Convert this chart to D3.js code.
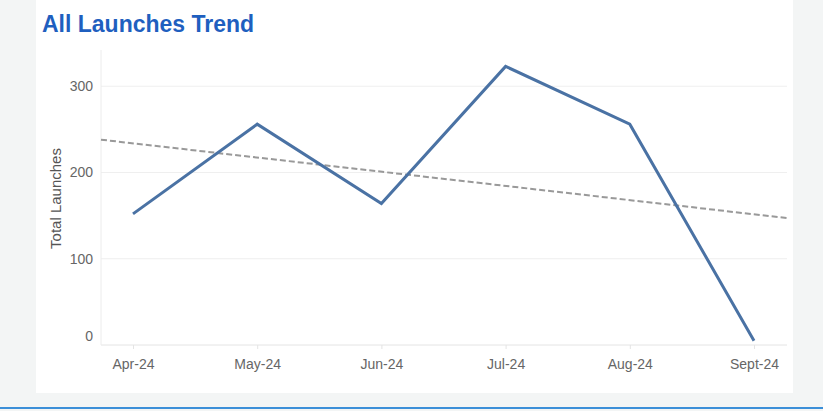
<!DOCTYPE html>
<html>
<head>
<meta charset="utf-8">
<script src="https://cdn.jsdelivr.net/npm/d3@7"></script>
<style>
  body { margin: 0; background: #f3f5f5; }
  svg { display: block; font-family: "Liberation Sans", Arial, sans-serif; }
</style>
</head>
<body>
<svg id="chart" width="823" height="411"></svg>
<script>
// dane
const months = ["Apr-24", "May-24", "Jun-24", "Jul-24", "Aug-24", "Sept-24"];
const launches = [152, 256, 164, 323, 256, 5];
const yTicks = [0, 100, 200, 300];

const svg = d3.select("#chart");

// karta
svg.append("rect").attr("x", 36).attr("y", 0).attr("width", 757).attr("height", 393).attr("fill", "#fff");
svg.append("rect").attr("x", 0).attr("y", 407).attr("width", 823).attr("height", 2).attr("fill", "#3b8fd8");

svg.append("text")
  .attr("x", 42).attr("y", 32)
  .attr("font-size", 23).attr("font-weight", "bold")
  .attr("fill", "#1f5fbf")
  .text("All Launches Trend");

const plotL = 101, plotR = 787, plotT = 50, plotB = 345;

const x = d3.scalePoint().domain(months).range([133, 754]);
const y = d3.scaleLinear().domain([0, 342]).range([plotB, plotT]);

// siatka
svg.append("g").selectAll("line")
  .data(yTicks)
  .enter().append("line")
  .attr("x1", plotL).attr("x2", plotR)
  .attr("y1", d => y(d)).attr("y2", d => y(d))
  .attr("stroke", "#efefef");

svg.append("line").attr("x1", plotL).attr("x2", plotL).attr("y1", plotT).attr("y2", plotB).attr("stroke", "#ececec");

// osie
const yAxis = svg.append("g")
  .attr("transform", `translate(${plotL},0)`)
  .call(d3.axisLeft(y).tickValues(yTicks).tickSize(0).tickPadding(8));
yAxis.select(".domain").remove();
yAxis.selectAll("text").attr("font-size", 14).attr("fill", "#666").attr("font-family", "Liberation Sans, Arial, sans-serif");
// etykieta 0 podniesiona nad dolną krawędź
yAxis.selectAll(".tick").filter(d => d === 0).select("text").attr("y", -9);

const xAxis = svg.append("g")
  .attr("transform", `translate(0,${plotB})`)
  .call(d3.axisBottom(x).tickSize(4).tickPadding(10));
xAxis.select(".domain").attr("d", `M${plotL},0H${plotR}`).attr("stroke", "#ececec");
xAxis.selectAll(".tick line").attr("stroke", "#e4e4e4");
xAxis.selectAll("text").attr("font-size", 14).attr("fill", "#666").attr("font-family", "Liberation Sans, Arial, sans-serif");

svg.append("text")
  .attr("transform", `translate(61,${(plotT + plotB) / 2 + 1}) rotate(-90)`)
  .attr("text-anchor", "middle")
  .attr("font-size", 15).attr("fill", "#555")
  .text("Total Launches");

// linia trendu (regresja liniowa)
const idx = launches.map((d, i) => i);
const mx = d3.mean(idx), my = d3.mean(launches);
const slope = d3.sum(idx, i => (i - mx) * (launches[i] - my)) / d3.sum(idx, i => (i - mx) ** 2);
const step = x.step();
const trendAt = px => {
  const i = (px - x(months[0])) / step;
  return my + slope * (i - mx);
};
svg.append("line")
  .attr("x1", plotL).attr("y1", y(trendAt(plotL)))
  .attr("x2", plotR).attr("y2", y(trendAt(plotR)))
  .attr("stroke", "#999").attr("stroke-width", 2)
  .attr("stroke-dasharray", "6,3");

// linia danych
svg.append("path")
  .datum(launches)
  .attr("fill", "none")
  .attr("stroke", "#4a72a4")
  .attr("stroke-width", 3)
  .attr("stroke-linejoin", "miter")
  .attr("d", d3.line().x((d, i) => x(months[i])).y(d => y(d)));
</script>
</body>
</html>
